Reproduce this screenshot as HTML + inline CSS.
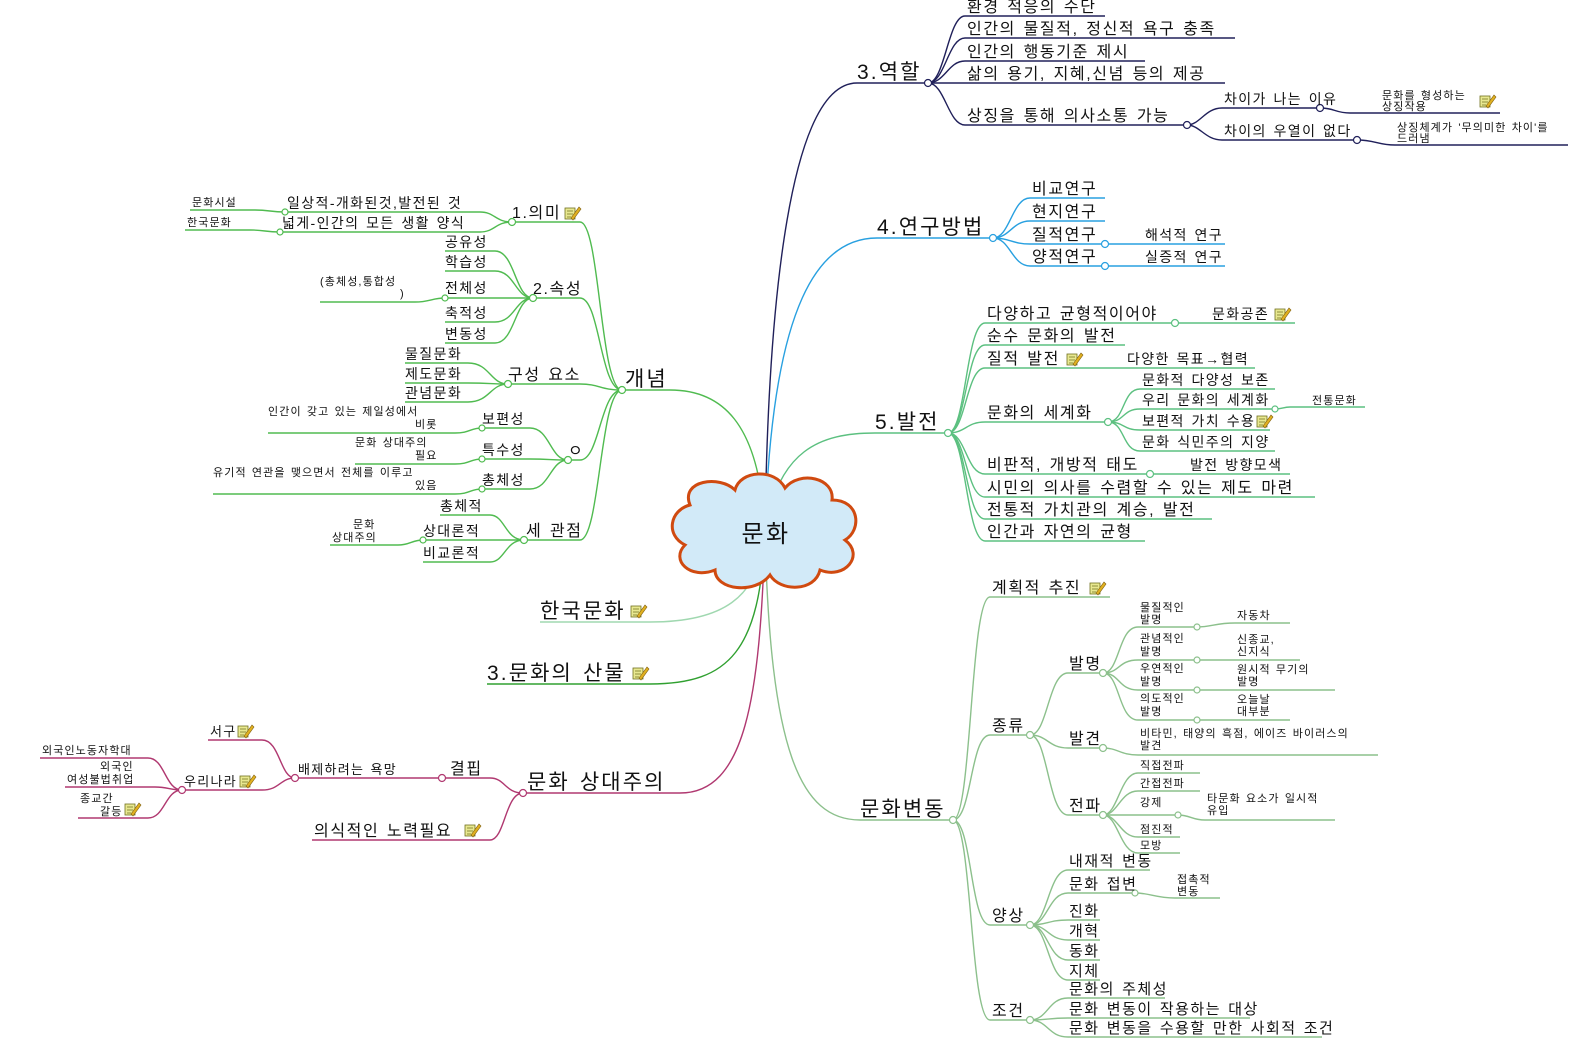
<!DOCTYPE html>
<html><head><meta charset="utf-8"><style>
html,body{margin:0;padding:0;background:#fff;}
svg{display:block;font-family:"Liberation Sans","Noto Sans CJK KR","NanumGothic",sans-serif;}
text{letter-spacing:0.1em;word-spacing:0.1em;}
.l{fill:none;stroke-width:1.4}
.c{fill:#fff;stroke-width:1.2}
.t{fill:#111}
</style></head><body>
<svg width="1582" height="1053" viewBox="0 0 1582 1053" xmlns="http://www.w3.org/2000/svg">
<defs>
<g id="ic"><rect x="0" y="-11" width="10" height="11" fill="#e8e890" stroke="#707020" stroke-width="0.8"/><path d="M2 -8H8M2 -5H8M2 -2H6" stroke="#707020" stroke-width="0.7"/><path d="M6 -1L14 -12L16 -10L8 1Z" fill="#e0b020" stroke="#806010" stroke-width="0.6"/></g>
</defs>

<g class="l">
<path stroke="#20205a" d="M765 532C768 300 790 83 857 83H928"/>
<path stroke="#28a0e0" d="M765 532C772 300 820 238 877 238H993"/>
<path stroke="#5cc080" d="M765 532C778 450 820 433 875 433H948"/>
<path stroke="#8cc08c" d="M765 532C770 750 800 820 860 820H953"/>
<path stroke="#50bb50" d="M765 532C760 420 720 390 670 390H622"/>
<path stroke="#a0d8b0" d="M765 532C760 600 720 622 650 622H540"/>
<path stroke="#30a030" d="M765 532C760 650 730 684 650 684H487"/>
<path stroke="#b03870" d="M765 532C760 700 745 793 680 793H523"/>
</g>

<g>
<path d="M690 505 C680 480 720 475 735 490 C740 470 775 468 785 488 C800 470 835 478 832 500 C860 500 862 530 845 540 C865 555 845 580 820 570 C815 592 780 592 770 575 C755 595 715 590 715 570 C690 580 670 560 685 545 C665 535 670 510 690 505Z" fill="#d2eaf8" stroke="#d04a10" stroke-width="3"/>
<text x="766" y="542" font-size="24" text-anchor="middle" class="t">문화</text>
</g>

<g font-size="21" class="t">
<text x="857" y="79">3.역할</text>
<text x="877" y="234">4.연구방법</text>
<text x="875" y="429">5.발전</text>
<text x="860" y="816">문화변동</text>
<text x="625" y="386">개념</text>
<text x="540" y="618">한국문화</text>
<text x="487" y="680">3.문화의 산물</text>
<text x="527" y="789">문화 상대주의</text>
</g>
<use href="#ic" x="631" y="617"/>
<use href="#ic" x="633" y="679"/>

<g class="l" stroke="#20205a">
<path d="M928 83C945 83 948 16 965 16H1105"/>
<path d="M928 83C945 83 948 38 965 38H1235"/>
<path d="M928 83C945 83 948 61 965 61H1145"/>
<path d="M928 83H1225"/>
<path d="M928 83C945 83 948 125 965 125H1187"/>
<path d="M1187 125C1200 125 1205 108 1222 108H1320"/>
<path d="M1187 125C1200 125 1205 140 1222 140H1357"/>
<path d="M1320 108C1335 108 1335 113 1350 113H1500"/>
<path d="M1357 140C1375 140 1378 145 1395 145H1568"/>
</g>
<g class="c" stroke="#20205a"><circle cx="928" cy="83" r="3.5"/><circle cx="1187" cy="125" r="3.5"/><circle cx="1320" cy="108" r="3.5"/><circle cx="1357" cy="140" r="3.5"/></g>
<g font-size="16" class="t">
<text x="967" y="12">환경 적응의 수단</text>
<text x="967" y="34">인간의 물질적, 정신적 욕구 충족</text>
<text x="967" y="57">인간의 행동기준 제시</text>
<text x="967" y="79">삶의 용기, 지혜,신념 등의 제공</text>
<text x="967" y="121">상징을 통해 의사소통 가능</text>
<text x="1224" y="104" font-size="14">차이가 나는 이유</text>
<text x="1224" y="136" font-size="14">차이의 우열이 없다</text>
<text x="1382" y="99" font-size="11">문화를 형성하는</text>
<text x="1382" y="110" font-size="11">상징작용</text>
<text x="1397" y="131" font-size="11">상징체계가 '무의미한 차이'를</text>
<text x="1397" y="142" font-size="11">드러냄</text>
</g>
<use href="#ic" x="1480" y="107"/>

<g class="l" stroke="#28a0e0">
<path d="M993 238C1010 238 1012 198 1030 198H1105"/>
<path d="M993 238C1010 238 1012 221 1030 221H1105"/>
<path d="M993 238C1010 238 1012 244 1030 244H1105"/>
<path d="M993 238C1010 238 1012 266 1030 266H1105"/>
<path d="M1105 244H1225M1105 266H1225"/>
</g>
<g class="c" stroke="#28a0e0"><circle cx="993" cy="238" r="3.5"/><circle cx="1105" cy="244" r="3.5"/><circle cx="1105" cy="266" r="3.5"/></g>
<g font-size="16" class="t">
<text x="1032" y="194">비교연구</text><text x="1032" y="217">현지연구</text><text x="1032" y="240">질적연구</text><text x="1032" y="262">양적연구</text>
<text x="1145" y="240" font-size="14">해석적 연구</text><text x="1145" y="262" font-size="14">실증적 연구</text>
</g>

<g class="l" stroke="#5cc080">
<path d="M948 433C966 433 966 323 985 323H1175"/>
<path d="M948 433C966 433 966 345 985 345H1125"/>
<path d="M948 433C966 433 966 368 985 368H1090"/>
<path d="M948 433C966 433 966 422 985 422H1108"/>
<path d="M948 433C966 433 966 474 985 474H1150"/>
<path d="M948 433C966 433 966 497 985 497H1315"/>
<path d="M948 433C966 433 966 519 985 519H1212"/>
<path d="M948 433C966 433 966 541 985 541H1145"/>
<path d="M1175 323H1295M1090 368C1105 368 1110 368 1125 368H1255M1150 474H1290"/>
<path d="M1108 422C1125 422 1122 389 1140 389H1275"/>
<path d="M1108 422C1125 422 1122 409 1140 409H1275"/>
<path d="M1108 422C1125 422 1122 430 1140 430H1270"/>
<path d="M1108 422C1125 422 1122 451 1140 451H1275"/>
<path d="M1275 409C1283 409 1283 407 1290 407H1365"/>
</g>
<g class="c" stroke="#5cc080"><circle cx="948" cy="433" r="3.5"/><circle cx="1175" cy="323" r="3.5"/><circle cx="1108" cy="422" r="3.5"/><circle cx="1150" cy="474" r="3.5"/><circle cx="1275" cy="409" r="3"/></g>
<g font-size="16" class="t">
<text x="987" y="319">다양하고 균형적이어야</text>
<text x="987" y="341">순수 문화의 발전</text>
<text x="987" y="364">질적 발전</text>
<text x="987" y="418">문화의 세계화</text>
<text x="987" y="470">비판적, 개방적 태도</text>
<text x="987" y="493">시민의 의사를 수렴할 수 있는 제도 마련</text>
<text x="987" y="515">전통적 가치관의 계승, 발전</text>
<text x="987" y="537">인간과 자연의 균형</text>
<text x="1212" y="319" font-size="14">문화공존</text>
<text x="1127" y="364" font-size="14">다양한 목표→협력</text>
<text x="1142" y="385" font-size="14">문화적 다양성 보존</text>
<text x="1142" y="405" font-size="14">우리 문화의 세계화</text>
<text x="1142" y="426" font-size="14">보편적 가치 수용</text>
<text x="1142" y="447" font-size="14">문화 식민주의 지양</text>
<text x="1190" y="470" font-size="14">발전 방향모색</text>
<text x="1312" y="404" font-size="11">전통문화</text>
</g>
<use href="#ic" x="1275" y="320"/><use href="#ic" x="1067" y="365"/><use href="#ic" x="1257" y="427"/>

<g class="l" stroke="#8cc08c">
<path d="M953 820C972 820 970 597 990 597H1110"/>
<path d="M953 820C972 820 970 735 990 735H1030"/>
<path d="M953 820C972 820 970 925 990 925H1030"/>
<path d="M953 820C972 820 970 1020 990 1020H1030"/>
<path d="M1030 735C1048 735 1048 673 1068 673H1103"/>
<path d="M1030 735C1048 735 1048 748 1068 748H1103"/>
<path d="M1030 735C1048 735 1048 815 1068 815H1103"/>
<path d="M1103 673C1120 673 1118 627 1138 627H1197"/>
<path d="M1103 673C1120 673 1118 660 1138 660H1197"/>
<path d="M1103 673C1120 673 1118 690 1138 690H1197"/>
<path d="M1103 673C1120 673 1118 720 1138 720H1197"/>
<path d="M1197 627C1212 627 1215 623 1235 623H1290"/>
<path d="M1197 660H1300M1197 690H1335M1197 720H1290"/>
<path d="M1103 748C1118 748 1120 755 1138 755H1378"/>
<path d="M1103 815C1118 815 1120 773 1138 773H1200"/>
<path d="M1103 815C1118 815 1120 791 1138 791H1200"/>
<path d="M1103 815H1178"/>
<path d="M1103 815C1118 815 1120 837 1138 837H1180"/>
<path d="M1103 815C1118 815 1120 853 1138 853H1180"/>
<path d="M1178 815C1190 815 1192 820 1205 820H1335"/>
<path d="M1030 925C1048 925 1048 870 1068 870H1150"/>
<path d="M1030 925C1048 925 1048 893 1068 893H1135"/>
<path d="M1030 925C1048 925 1048 920 1068 920H1100"/>
<path d="M1030 925C1048 925 1048 940 1068 940H1100"/>
<path d="M1030 925C1048 925 1048 960 1068 960H1100"/>
<path d="M1030 925C1048 925 1048 980 1068 980H1100"/>
<path d="M1135 893C1150 893 1155 898 1175 898H1220"/>
<path d="M1030 1020C1048 1020 1048 998 1068 998H1165"/>
<path d="M1030 1020C1048 1020 1048 1018 1068 1018H1250"/>
<path d="M1030 1020C1048 1020 1048 1037 1068 1037H1322"/>
</g>
<g class="c" stroke="#8cc08c"><circle cx="953" cy="820" r="3.5"/><circle cx="1030" cy="735" r="3.5"/><circle cx="1030" cy="925" r="3.5"/><circle cx="1030" cy="1020" r="3.5"/><circle cx="1103" cy="673" r="3.5"/><circle cx="1103" cy="748" r="3.5"/><circle cx="1103" cy="815" r="3.5"/><circle cx="1197" cy="627" r="3"/><circle cx="1197" cy="660" r="3"/><circle cx="1197" cy="690" r="3"/><circle cx="1197" cy="720" r="3"/><circle cx="1178" cy="815" r="3"/><circle cx="1135" cy="893" r="3"/></g>
<g font-size="16" class="t">
<text x="992" y="593">계획적 추진</text>
<text x="992" y="731">종류</text><text x="992" y="921">양상</text><text x="992" y="1016">조건</text>
<text x="1069" y="669">발명</text><text x="1069" y="744">발견</text><text x="1069" y="811">전파</text>
</g>
<use href="#ic" x="1090" y="594"/>
<g font-size="11" class="t">
<text x="1140" y="611">물질적인</text><text x="1140" y="623">발명</text>
<text x="1140" y="642">관념적인</text><text x="1140" y="655">발명</text>
<text x="1140" y="672">우연적인</text><text x="1140" y="685">발명</text>
<text x="1140" y="702">의도적인</text><text x="1140" y="715">발명</text>
<text x="1237" y="619">자동차</text>
<text x="1237" y="643">신종교,</text><text x="1237" y="655">신지식</text>
<text x="1237" y="673">원시적 무기의</text><text x="1237" y="685">발명</text>
<text x="1237" y="703">오늘날</text><text x="1237" y="715">대부분</text>
<text x="1140" y="737">비타민, 태양의 흑점, 에이즈 바이러스의</text><text x="1140" y="749">발견</text>
<text x="1140" y="769">직접전파</text><text x="1140" y="787">간접전파</text><text x="1140" y="806">강제</text>
<text x="1140" y="833">점진적</text><text x="1140" y="849">모방</text>
<text x="1207" y="802">타문화 요소가 일시적</text><text x="1207" y="814">유입</text>
<text x="1177" y="883">접촉적</text><text x="1177" y="895">변동</text>
</g>
<g font-size="15" class="t">
<text x="1069" y="866">내재적 변동</text><text x="1069" y="889">문화 접변</text>
<text x="1069" y="916">진화</text><text x="1069" y="936">개혁</text><text x="1069" y="956">동화</text><text x="1069" y="976">지체</text>
<text x="1069" y="994">문화의 주체성</text><text x="1069" y="1014">문화 변동이 작용하는 대상</text><text x="1069" y="1033">문화 변동을 수용할 만한 사회적 조건</text>
</g>

<g class="l" stroke="#50bb50">
<path d="M622 390C600 390 600 222 580 222H512"/>
<path d="M622 390C600 390 600 298 580 298H533"/>
<path d="M622 390C600 390 600 384 580 384H508"/>
<path d="M622 390C600 390 600 460 580 460H568"/>
<path d="M622 390C600 390 600 540 580 540H524"/>
<path d="M512 222C495 222 495 212 480 212H285"/>
<path d="M512 222C495 222 495 232 480 232H280"/>
<path d="M285 212C270 212 270 210 255 210H190"/>
<path d="M280 232C265 232 265 230 250 230H185"/>
<path d="M533 298C515 298 515 251 495 251H445"/>
<path d="M533 298C515 298 515 271 495 271H445"/>
<path d="M533 298H445"/>
<path d="M533 298C515 298 515 322 495 322H445"/>
<path d="M533 298C515 298 515 343 495 343H445"/>
<path d="M445 298C432 298 430 302 415 302H320"/>
<path d="M508 384C490 384 490 363 468 363H405"/>
<path d="M508 384C490 384 490 383 468 383H405"/>
<path d="M508 384C490 384 490 402 468 402H405"/>
<path d="M568 460C550 460 550 428 530 428H482"/>
<path d="M568 460C550 460 550 459 530 459H482"/>
<path d="M568 460C550 460 550 489 530 489H482"/>
<path d="M482 428C470 428 470 433 455 433H268"/>
<path d="M482 459C470 459 470 464 455 464H355"/>
<path d="M482 489C470 489 470 494 455 494H213"/>
<path d="M524 540C505 540 505 515 490 515H440"/>
<path d="M524 540H423"/>
<path d="M524 540C505 540 505 562 490 562H423"/>
<path d="M423 540C412 540 410 545 398 545H330"/>
</g>
<g class="c" stroke="#50bb50"><circle cx="622" cy="390" r="3.5"/><circle cx="512" cy="222" r="3.5"/><circle cx="533" cy="298" r="3.5"/><circle cx="508" cy="384" r="3.5"/><circle cx="568" cy="460" r="3.5"/><circle cx="524" cy="540" r="3.5"/><circle cx="285" cy="212" r="3"/><circle cx="280" cy="232" r="3"/><circle cx="445" cy="298" r="3"/><circle cx="482" cy="428" r="3"/><circle cx="482" cy="459" r="3"/><circle cx="482" cy="489" r="3"/><circle cx="423" cy="540" r="3"/></g>
<g font-size="16" class="t">
<text x="512" y="218">1.의미</text>
<text x="533" y="294">2.속성</text>
<text x="508" y="380">구성 요소</text>
<text x="568" y="456">ㅇ</text>
<text x="526" y="536">세 관점</text>
</g>
<use href="#ic" x="565" y="219"/>
<g font-size="14" class="t">
<text x="287" y="208">일상적-개화된것,발전된 것</text>
<text x="282" y="228">넓게-인간의 모든 생활 양식</text>
<text x="445" y="247">공유성</text><text x="445" y="267">학습성</text><text x="445" y="293">전체성</text><text x="445" y="318">축적성</text><text x="445" y="339">변동성</text>
<text x="405" y="359">물질문화</text><text x="405" y="379">제도문화</text><text x="405" y="398">관념문화</text>
<text x="482" y="424">보편성</text><text x="482" y="455">특수성</text><text x="482" y="485">총체성</text>
<text x="440" y="511">총체적</text><text x="423" y="536">상대론적</text><text x="423" y="558">비교론적</text>
</g>
<g font-size="11" class="t">
<text x="192" y="206">문화시설</text><text x="187" y="226">한국문화</text>
<text x="320" y="285">(총체성,통합성</text><text x="400" y="297">)</text>
<text x="268" y="415">인간이 갖고 있는 제일성에서</text><text x="415" y="428">비롯</text>
<text x="355" y="446">문화 상대주의</text><text x="415" y="459">필요</text>
<text x="213" y="476">유기적 연관을 맺으면서 전체를 이루고</text><text x="415" y="489">있음</text>
<text x="353" y="528">문화</text><text x="332" y="541">상대주의</text>
</g>

<g class="l" stroke="#b03870">
<path d="M523 793C505 793 505 778 490 778H442"/>
<path d="M523 793C505 793 505 840 490 840H312"/>
<path d="M442 778H295"/>
<path d="M295 778C280 778 280 740 262 740H208"/>
<path d="M295 778C280 778 280 790 262 790H182"/>
<path d="M182 790C165 790 165 758 148 758H40"/>
<path d="M182 790C170 790 168 787 155 787H65"/>
<path d="M182 790C165 790 165 818 148 818H78"/>
</g>
<g class="c" stroke="#b03870"><circle cx="523" cy="793" r="3.5"/><circle cx="442" cy="778" r="3.5"/><circle cx="295" cy="778" r="3.5"/><circle cx="182" cy="790" r="3.5"/></g>
<g font-size="16" class="t">
<text x="450" y="774">결핍</text>
<text x="314" y="836">의식적인 노력필요</text>
</g>
<use href="#ic" x="465" y="836"/>
<g font-size="13" class="t">
<text x="298" y="774">배제하려는 욕망</text>
<text x="210" y="736">서구</text>
<text x="184" y="786">우리나라</text>
<text x="42" y="754" font-size="11">외국인노동자학대</text>
<text x="100" y="770" font-size="11">외국인</text><text x="67" y="783" font-size="11">여성불법취업</text>
<text x="80" y="802" font-size="11">종교간</text><text x="100" y="815" font-size="11">갈등</text>
</g>
<use href="#ic" x="238" y="737"/><use href="#ic" x="240" y="787"/><use href="#ic" x="125" y="815"/>
</svg>
</body></html>
